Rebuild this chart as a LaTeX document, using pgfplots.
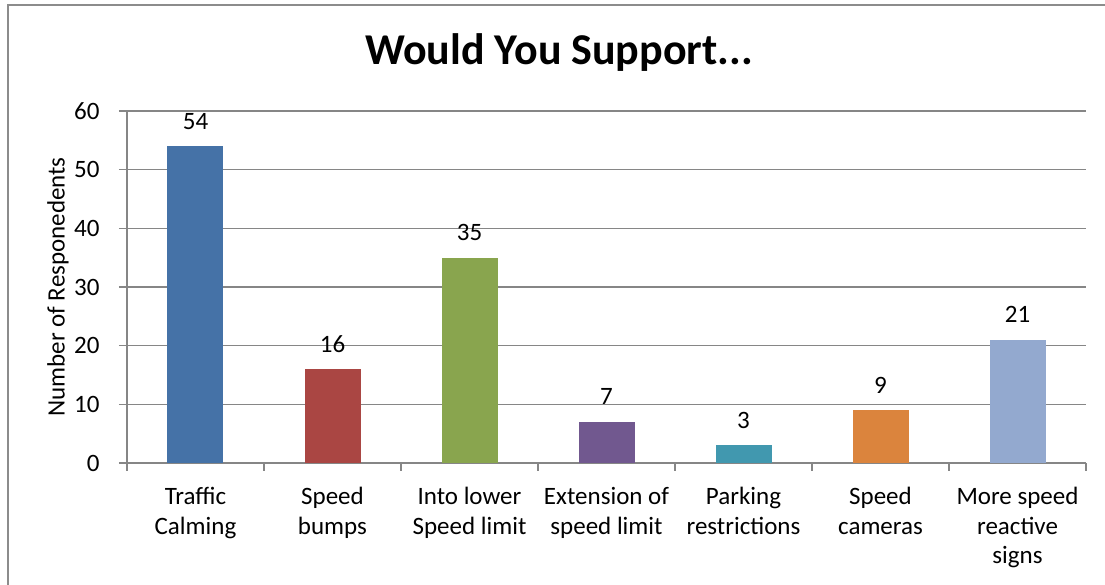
\documentclass[border=0pt]{standalone}
\usepackage{pgfplots}
\pgfplotsset{compat=1.18}
\usetikzlibrary{calc}
\usepackage{fontspec}
\setmainfont{Carlito}
\definecolor{c1}{HTML}{4572A7}
\definecolor{c2}{HTML}{AA4643}
\definecolor{c3}{HTML}{89A54E}
\definecolor{c4}{HTML}{71588F}
\definecolor{c5}{HTML}{4198AF}
\definecolor{c6}{HTML}{DB843D}
\definecolor{c7}{HTML}{93A9CF}
\definecolor{gridc}{HTML}{868686}
\definecolor{framec}{HTML}{8C8C8C}
\newcommand{\lab}{\fontsize{25}{29.5}\selectfont}
\begin{document}
\begin{tikzpicture}[x=1pt,y=1pt]
\begin{axis}[
  width=959pt, height=352pt, scale only axis,
  xmin=-0.5, xmax=6.5, ymin=0, ymax=60,
  ybar, bar width=56pt,
  ytick={0,10,...,60}, ymajorgrids,
  grid style={gridc, line width=1.3pt},
  axis x line*=bottom, axis y line*=left,
  axis line style={gridc, line width=1.3pt, -},
  tick align=outside, major tick length=8pt, minor tick length=8pt,
  tick style={gridc, line width=1.3pt},
  xtick={0,1,2,3,4,5,6},
  xticklabels={Traffic\\Calming, Speed\\bumps, Into lower\\Speed limit, Extension of\\speed limit, Parking\\restrictions, Speed\\cameras, More speed\\reactive\\signs},
  major x tick style={draw=none},
  minor xtick={-0.5,0.5,...,6.5},
  xticklabel style={align=center, font=\lab, anchor=north, yshift=-13pt},
  yticklabel style={font=\lab, xshift=-16pt},
  /pgf/number format/assume math mode=true,
  ylabel={Number of Responedents},
  ylabel style={font=\lab, at={(axis description cs:-0.072,0.5)}, anchor=center},
  nodes near coords,
  every node near coord/.append style={font=\lab, anchor=base, yshift=17pt, inner sep=0pt, text=black},
  clip=false,
]
\addplot[fill=c1, draw=none, bar shift=0pt] coordinates {(0,54)};
\addplot[fill=c2, draw=none, bar shift=0pt] coordinates {(1,16)};
\addplot[fill=c3, draw=none, bar shift=0pt] coordinates {(2,35)};
\addplot[fill=c4, draw=none, bar shift=0pt] coordinates {(3,7)};
\addplot[fill=c5, draw=none, bar shift=0pt] coordinates {(4,3)};
\addplot[fill=c6, draw=none, bar shift=0pt] coordinates {(5,9)};
\addplot[fill=c7, draw=none, bar shift=0pt] coordinates {(6,21)};
\coordinate (O) at (rel axis cs:0,0);
\end{axis}
\pgfresetboundingbox
\coordinate (P) at ($(O)+(-127,-122)$);
\useasboundingbox (P) rectangle ($(P)+(1105,585)$);
\begin{scope}[shift={(P)}]
\clip (0,0) rectangle (1105,585);
\draw[framec, line width=2pt] (8,-20) -- (8,580) -- (1130,580);
\node[anchor=base, font=\fontsize{44}{46}\selectfont\bfseries] at (559,520) {Would You Support...};
\end{scope}
\end{tikzpicture}
\end{document}
